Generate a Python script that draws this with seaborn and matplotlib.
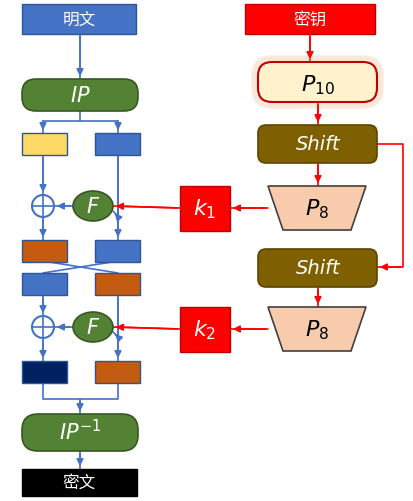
import matplotlib
matplotlib.use("Agg")
import matplotlib.pyplot as plt
import seaborn as sns
from matplotlib.patches import FancyBboxPatch, Rectangle, Circle, Ellipse, Polygon

sns.set_theme(style="white")
plt.rcParams['font.family'] = ['Noto Sans CJK SC', 'DejaVu Sans']

BLUE = "#4472C4"
GREEN = "#548235"
ORANGE = "#C55A11"
BROWN = "#7F6000"
PEACH = "#F8CBAD"
RED = "#FF0000"

# labels of the diagram
plain_label = "明文"
cipher_label = "密文"
key_label = "密钥"
ip_label = "$IP$"
ip_inv_label = "$IP^{-1}$"
p10_label = "$P_{10}$"
p8_label = "$P_{8}$"
shift_label = "Shift"
subkeys = ["$k_1$", "$k_2$"]
f_label = "$F$"
# rows of halves: (left colour, right colour)
rows = [("#FFD966", BLUE), (ORANGE, BLUE), (BLUE, ORANGE), ("#002060", ORANGE)]
row_y = [134, 241, 274, 362]

fig = plt.figure(figsize=(4.13, 5.02), dpi=100)
ax = fig.add_axes([0, 0, 1, 1])
ax.set_xlim(0, 413)
ax.set_ylim(502, 0)
ax.axis("off")


def rect(x0, y0, x1, y1, fc, ec=None, lw=1):
    ax.add_patch(Rectangle((x0, y0), x1 - x0, y1 - y0, fc=fc, ec=ec or fc, lw=lw, zorder=2))


def rbox(x0, y0, x1, y1, fc, ec, r=10, lw=1.2):
    ax.add_patch(FancyBboxPatch((x0 + r, y0 + r), x1 - x0 - 2 * r, y1 - y0 - 2 * r,
                                boxstyle=f"round,pad={r}", fc=fc, ec=ec, lw=lw, zorder=2))


def arrow(pts, color):
    ax.plot([p[0] for p in pts], [p[1] for p in pts], color=color, lw=1.2, zorder=1)
    ax.annotate("", xy=pts[-1], xytext=pts[-2],
                arrowprops=dict(arrowstyle="-|>", color=color, lw=1.2, mutation_scale=10), zorder=3)


def line(pts, color, z=1):
    ax.plot([p[0] for p in pts], [p[1] for p in pts], color=color, lw=1.2, zorder=z)


def txt(x, y, s, size=14, color="white", style="normal"):
    fam = ['DejaVu Sans'] if style == "italic" else ['Noto Sans CJK SC', 'DejaVu Sans']
    ax.text(x, y, s, ha="center", va="center", fontsize=size, color=color, style=style,
            family=fam, zorder=4)


# left column
rect(22, 5, 136, 35, BLUE, "#2F5597")
txt(79, 20, plain_label, 12)
rbox(22, 80, 138, 112, GREEN, "#385723", r=14)
txt(80, 96, ip_label, 15)
for (lc, rc), y in zip(rows, row_y):
    rect(22, y, 67, y + 22, lc, "#2F5597")
    rect(95, y, 140, y + 22, rc, "#2F5597")
for cy in [207, 328]:
    ax.add_patch(Circle((43, cy), 11, fc="white", ec=BLUE, lw=1.5, zorder=2))
    line([(32, cy), (54, cy)], BLUE, z=3)
    line([(43, cy - 11), (43, cy + 11)], BLUE, z=3)
    ax.add_patch(Ellipse((93, cy), 40, 30, fc=GREEN, ec="#385723", lw=1.2, zorder=2))
    txt(93, cy, f_label, 15)
rbox(22, 415, 138, 452, GREEN, "#385723", r=16)
txt(80, 433, ip_inv_label, 15)
rect(22, 470, 137, 497, "black")
txt(79, 483, cipher_label, 12)

# blue flow
arrow([(80, 35), (80, 80)], BLUE)
line([(80, 112), (80, 122)], BLUE)
line([(43, 122), (118, 122)], BLUE)
arrow([(43, 122), (43, 134)], BLUE)
arrow([(118, 122), (118, 134)], BLUE)
arrow([(43, 156), (43, 196)], BLUE)
arrow([(118, 156), (118, 241)], BLUE)
arrow([(118, 218), (113, 212)], BLUE)
arrow([(73, 207), (54, 207)], BLUE)
arrow([(43, 218), (43, 241)], BLUE)
line([(43, 262), (118, 274)], BLUE)
line([(118, 262), (43, 274)], BLUE)
arrow([(43, 296), (43, 317)], BLUE)
arrow([(118, 296), (118, 362)], BLUE)
arrow([(118, 338), (113, 333)], BLUE)
arrow([(73, 328), (54, 328)], BLUE)
arrow([(43, 339), (43, 362)], BLUE)
line([(43, 384), (43, 400), (118, 400), (118, 384)], BLUE)
arrow([(80, 400), (80, 415)], BLUE)
arrow([(80, 452), (80, 470)], BLUE)

# right column (key schedule)
rect(245, 5, 375, 35, RED, "#C00000")
txt(310, 20, key_label, 12)
for g in range(6, 0, -1):
    rbox(258 - g, 63 - g, 377 + g, 103 + g, "none", "#F4B183", r=14 + g, lw=1.5)
    ax.patches[-1].set_alpha(0.15)
rbox(258, 63, 377, 103, "#FFF2CC", "#C00000", r=14, lw=1.5)
txt(318, 85, p10_label, 16, "black")
for y0, y1, ky in [(126, 164, 187), (250, 288, 308)]:
    rbox(258, y0, 377, y1, BROWN, "#5C4600", r=8)
    txt(318, (y0 + y1) / 2, shift_label, 14, style="italic")
    ax.add_patch(Polygon([(268, ky), (366, ky), (351, ky + 44), (283, ky + 44)],
                         closed=True, fc=PEACH, ec="#404040", lw=1.2, zorder=2))
    txt(317, ky + 22, p8_label, 16, "black")
for (ky, lab), cy in zip([(187, subkeys[0]), (308, subkeys[1])], [207, 328]):
    rect(180, ky, 230, ky + 45, RED, "#C00000")
    txt(205, ky + 22, lab, 16)
    arrow([(268, ky + 22), (230, ky + 22)], RED)
    arrow([(180, ky + 22), (113, cy)], RED)

arrow([(310, 35), (310, 63)], RED)
arrow([(318, 103), (318, 126)], RED)
arrow([(318, 164), (318, 187)], RED)
arrow([(377, 145), (403, 145), (403, 268), (377, 268)], RED)
arrow([(318, 288), (318, 308)], RED)

fig.savefig("out.png", dpi=100)
